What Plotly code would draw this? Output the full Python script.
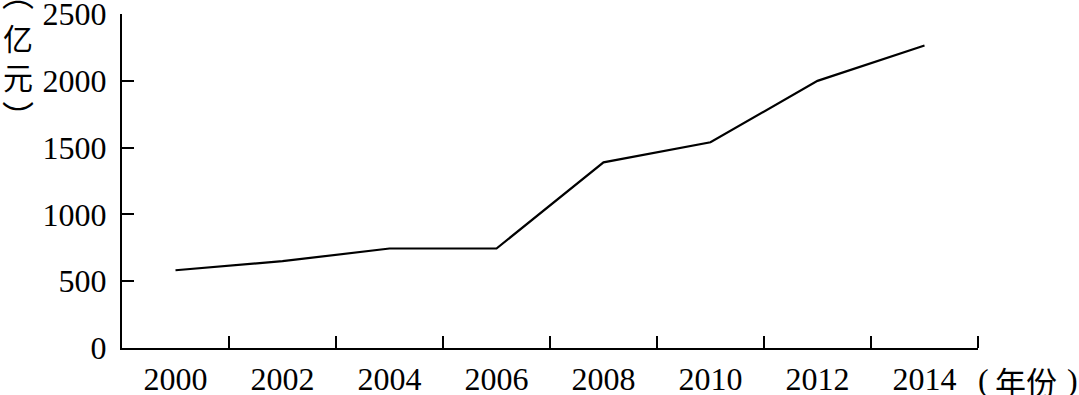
import plotly.graph_objects as go

years = [2000, 2002, 2004, 2006, 2008, 2010, 2012, 2014]
values = [582, 650, 745, 745, 1390, 1540, 2000, 2265]
x_tick_years = [2000, 2002, 2004, 2006, 2008, 2010, 2012, 2014]
x_minor_ticks = [2001, 2003, 2005, 2007, 2009, 2011, 2013, 2015]
y_ticks = [0, 500, 1000, 1500, 2000, 2500]

serif = "Liberation Serif, Times New Roman, serif"
cjk = "Noto Sans CJK SC"

W, H = 1079, 395
L, R, T, B = 122, 101, 14, 47
PW, PH = W - L - R, H - T - B


def px(xp):
    return (xp - L) / PW


def py(yp):
    return (H - B - yp) / PH


fig = go.Figure()
fig.add_trace(go.Scatter(x=years, y=values, mode="lines",
                         line=dict(color="black", width=2.2), showlegend=False))

ann = []
# vertical y-axis title: （亿元） in vertical presentation forms
for txt, xc, yc, sz in [
    ("︵", 18, -8, 32),
    ("亿<br>元", 18, 56.5, 30),
    ("︶", 18, 115, 32),
]:
    ann.append(dict(text=txt, xref="paper", yref="paper", x=px(xc), y=py(yc),
                    xanchor="center", yanchor="middle", align="center",
                    showarrow=False, font=dict(family=cjk, size=sz, color="black")))
# x-axis unit: （年份）
for txt, xc, fam, sz in [
    ("(", 983, serif, 32),
    ("年份", 1026, cjk, 31),
    (")", 1072, serif, 32),
]:
    ann.append(dict(text=txt, xref="paper", yref="paper", x=px(xc), y=py(380),
                    xanchor="center", yanchor="middle",
                    showarrow=False, font=dict(family=fam, size=sz, color="black")))

fig.update_layout(
    width=W, height=H,
    margin=dict(l=L, r=R, t=T, b=B, autoexpand=False),
    paper_bgcolor="white", plot_bgcolor="white",
    xaxis=dict(range=[1999, 2015], showline=True, linecolor="black", linewidth=2,
               showgrid=False, zeroline=False, automargin=False,
               tickvals=x_tick_years, ticktext=[str(y) for y in x_tick_years],
               ticks="", ticklabelstandoff=2,
               tickfont=dict(family=serif, size=32, color="black"),
               minor=dict(tickvals=x_minor_ticks, ticks="inside", ticklen=12,
                          tickwidth=2, tickcolor="black", showgrid=False)),
    yaxis=dict(range=[0, 2500.5], showline=True, linecolor="black", linewidth=2,
               showgrid=False, zeroline=False, automargin=False,
               tickvals=y_ticks, ticks="inside", ticklen=12, tickwidth=2,
               tickcolor="black", ticklabelstandoff=7, ticklabeloverflow="allow",
               tickfont=dict(family=serif, size=32, color="black")),
    annotations=ann,
)

fig.write_html("out.html", config={"displayModeBar": False},
               post_script="document.body.style.margin='0';document.body.style.overflow='hidden';")
